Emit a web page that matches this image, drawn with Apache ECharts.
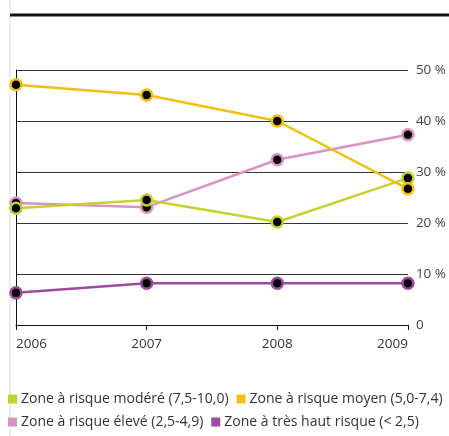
<!DOCTYPE html>
<html>
<head>
<meta charset="utf-8">
<script src="https://cdn.jsdelivr.net/npm/echarts@6/dist/echarts.min.js"></script>
<style>
  html, body { margin: 0; padding: 0; background: #fff; }
  #chart { width: 449px; height: 436px; }
</style>
</head>
<body>
<div id="chart"></div>
<script>
// annees et valeurs (%)
const annees = ['2006', '2007', '2008', '2009'];
const modere = [22.9, 24.5, 20.2, 28.8];
const moyen = [47.1, 45.1, 40.0, 26.7];
const eleve = [23.9, 23.1, 32.4, 37.3];
const tresHaut = [6.3, 8.2, 8.2, 8.2];
const noms = [
  'Zone à risque modéré (7,5-10,0)',
  'Zone à risque moyen (5,0-7,4)',
  'Zone à risque élevé (2,5-4,9)',
  'Zone à très haut risque (< 2,5)'
];
const couleurs = ['#c5d22c', '#f1bf10', '#d992c2', '#9c4b9f'];

var chartDom = document.getElementById('chart');
var myChart = echarts.init(chartDom);
const police = 'Open Sans';

function serie(i, data) {
  return {
    name: noms[i],
    type: 'line',
    data: data,
    symbol: 'circle',
    symbolSize: 11,
    lineStyle: { color: couleurs[i], width: 2.5 },
    itemStyle: { color: '#000', borderColor: couleurs[i], borderWidth: 2.5 },
    emphasis: { disabled: true }
  };
}

function itemLegende(i) {
  return { name: noms[i], itemStyle: { color: couleurs[i], borderWidth: 0 } };
}

// une ligne de legende = deux zones
function legende(a, b, haut) {
  return {
    data: [itemLegende(a), itemLegende(b)], left: 8, top: haut, width: 600, padding: 0,
    itemWidth: 9, itemHeight: 9, itemGap: 8, icon: 'rect',
    textStyle: { fontSize: 14, color: '#333', fontFamily: police, padding: [0, 0, 0, -1] }
  };
}

var option = {
  animation: false,
  textStyle: { fontFamily: police },
  graphic: [
    { type: 'line', shape: { x1: 10, y1: 0, x2: 10, y2: 436 }, style: { stroke: '#ddd', lineWidth: 1 } },
    { type: 'line', shape: { x1: 10, y1: 15, x2: 449, y2: 15 }, style: { stroke: '#111', lineWidth: 3 } }
  ],
  grid: { left: 16, right: 39, top: 70, bottom: 111 },
  legend: [legende(0, 1, 392), legende(2, 3, 415)],
  xAxis: {
    type: 'category',
    data: annees,
    boundaryGap: false,
    axisLine: { lineStyle: { color: '#111', width: 1 } },
    axisTick: { show: true, length: 5, lineStyle: { color: '#111' } },
    axisLabel: { color: '#333', fontSize: 13.5, margin: 12, alignMinLabel: 'left', alignMaxLabel: 'right' },
    splitLine: { show: false }
  },
  yAxis: [
    {
      type: 'value', position: 'right', min: 0, max: 50, interval: 10,
      axisLine: { show: false }, axisTick: { show: false },
      axisLabel: { color: '#444', fontSize: 13.5, margin: 8, formatter: v => v === 0 ? '0' : v + ' %' },
      splitLine: { lineStyle: { color: '#333', width: 1 } }
    },
    {
      type: 'value', position: 'left', min: 0, max: 50, interval: 10,
      axisLine: { show: true, lineStyle: { color: '#111' } }, axisTick: { show: false },
      axisLabel: { show: false }, splitLine: { show: false }
    }
  ],
  series: [
    serie(3, tresHaut),
    serie(2, eleve),
    serie(0, modere),
    serie(1, moyen)
  ]
};
option && myChart.setOption(option);
</script>
</body>
</html>
